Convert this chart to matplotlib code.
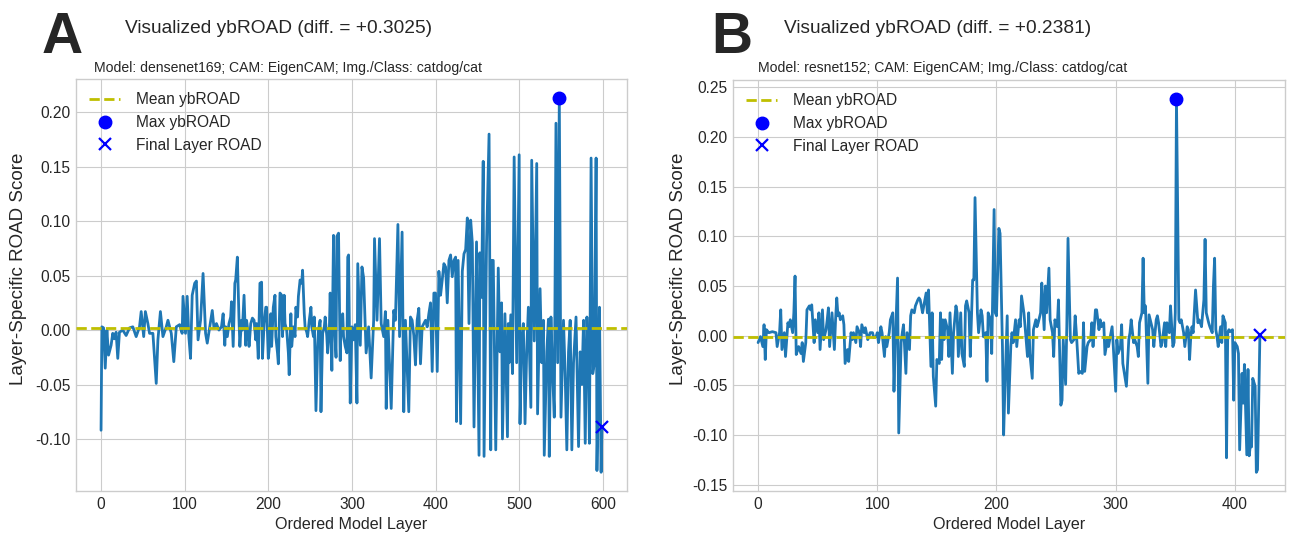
import matplotlib
matplotlib.use('Agg')
import matplotlib.pyplot as plt
import numpy as np

plt.style.use('seaborn-v0_8-whitegrid')
plt.rcParams['font.family'] = ['Liberation Sans', 'DejaVu Sans']
plt.rcParams['axes.unicode_minus'] = False

# ---------------- data ----------------
a_layers = [0, 1, 3, 5, 7, 9, 12, 14, 16, 18, 20, 22, 26, 30, 34, 38, 42, 46, 48, 51,
            53, 56, 58, 62, 66, 68, 71, 74, 78, 80, 84, 87, 90, 94, 97, 98, 101, 103, 105, 107,
            109, 112, 114, 116, 119, 122, 125, 127, 130, 133, 135, 138, 141, 144, 146, 148, 149, 151, 153, 155,
            156, 158, 160, 161, 163, 165, 166, 168, 169, 171, 173, 174, 176, 177, 179, 181, 183, 185, 186, 188,
            189, 190, 192, 193, 195, 197, 198, 200, 201, 203, 204, 206, 208, 209, 211, 212, 214, 216, 217, 219,
            220, 222, 224, 225, 227, 228, 230, 232, 233, 235, 236, 238, 240, 241, 243, 244, 246, 247, 249, 251,
            252, 254, 255, 257, 259, 260, 262, 263, 265, 267, 268, 270, 271, 273, 274, 276, 278, 279, 281, 282,
            284, 286, 287, 289, 290, 292, 294, 295, 296, 298, 300, 302, 304, 306, 307, 310, 312, 314, 317, 320,
            323, 326, 327, 330, 333, 335, 338, 340, 341, 343, 347, 350, 352, 355, 357, 360, 362, 364, 368, 370,
            372, 374, 376, 378, 380, 382, 384, 388, 390, 392, 394, 396, 398, 400, 402, 404, 406, 408, 410, 412,
            414, 416, 418, 420, 422, 424, 425, 427, 430, 432, 434, 436, 438, 440, 442, 444, 446, 449, 452, 453,
            455, 457, 458, 461, 464, 466, 467, 469, 472, 475, 477, 479, 480, 483, 486, 487, 488, 490, 492, 494,
            497, 500, 501, 503, 505, 507, 509, 511, 514, 515, 518, 521, 522, 525, 527, 529, 530, 533, 535, 536,
            538, 540, 542, 544, 546, 548, 550, 553, 555, 557, 559, 561, 563, 565, 568, 571, 573, 575, 577, 579,
            581, 583, 584, 586, 588, 590, 592, 593, 595, 596, 598, 599]
a_scores = [-0.092, 0.003, 0.002, -0.035, 0.000, -0.023, -0.014, -0.003, -0.008, -0.002, -0.026, -0.002, 0.000, -0.005, 0.002, 0.003, -0.006, 0.003, 0.017, -0.006,
            0.017, 0.006, -0.003, -0.003, -0.049, -0.009, 0.017, -0.006, 0.003, 0.009, -0.003, -0.029, 0.003, 0.005, -0.003, 0.031, -0.003, 0.031, -0.006, -0.026,
            0.032, 0.043, 0.045, -0.009, 0.009, 0.052, -0.003, -0.012, 0.003, 0.018, 0.002, 0.006, 0.000, 0.003, 0.015, -0.014, 0.003, -0.006, 0.006, 0.012,
            0.026, -0.015, 0.043, 0.046, 0.067, 0.009, -0.015, 0.009, 0.000, 0.032, -0.014, 0.009, -0.003, -0.015, 0.006, 0.011, 0.009, -0.009, 0.006, -0.026,
            0.009, 0.043, 0.044, -0.026, 0.006, 0.021, 0.021, -0.026, -0.018, 0.015, -0.015, 0.021, 0.032, -0.006, -0.021, -0.031, 0.034, 0.032, -0.006, 0.032,
            0.006, 0.000, -0.021, -0.041, 0.015, -0.015, 0.003, -0.006, 0.021, 0.012, 0.031, 0.046, 0.043, 0.055, 0.015, 0.003, -0.002, -0.006, 0.009, 0.021,
            0.003, -0.006, 0.012, -0.074, -0.015, 0.000, 0.009, -0.075, -0.003, 0.003, 0.012, -0.006, -0.021, 0.000, 0.034, -0.037, 0.087, 0.009, -0.025, 0.086,
            0.089, -0.028, 0.006, 0.015, -0.006, -0.015, -0.021, 0.067, 0.069, -0.067, 0.003, -0.009, 0.005, -0.067, 0.061, -0.014, 0.058, 0.048, -0.021, 0.003,
            -0.044, 0.009, 0.084, 0.009, 0.084, 0.006, -0.006, 0.017, -0.072, 0.009, -0.072, 0.018, 0.009, 0.097, -0.006, 0.090, -0.075, 0.009, -0.075, 0.012,
            0.009, -0.005, -0.032, 0.009, 0.020, -0.031, 0.003, 0.009, 0.003, 0.015, 0.025, -0.038, 0.034, 0.034, -0.038, 0.054, 0.032, 0.046, 0.061, 0.058,
            0.025, 0.064, 0.069, 0.049, 0.064, 0.067, -0.084, 0.064, -0.086, 0.054, 0.070, 0.074, 0.103, 0.006, 0.101, 0.080, -0.089, 0.081, -0.115, 0.071,
            0.030, 0.155, -0.116, 0.080, 0.180, -0.110, 0.064, 0.064, -0.110, 0.057, -0.020, 0.025, -0.100, 0.015, -0.098, 0.006, -0.030, 0.014, -0.040, 0.159,
            -0.030, 0.161, -0.086, -0.010, 0.006, -0.086, -0.020, 0.021, -0.071, 0.156, -0.010, 0.153, -0.077, 0.038, -0.030, 0.009, -0.115, -0.020, 0.010, -0.116,
            0.012, -0.040, -0.080, 0.190, -0.030, 0.2134, -0.080, 0.009, -0.040, -0.110, -0.020, 0.009, -0.110, -0.030, 0.012, -0.107, -0.020, -0.050, 0.009, -0.104,
            0.012, -0.040, -0.104, 0.158, -0.040, -0.030, 0.158, -0.129, -0.040, 0.021, -0.1306, -0.0891]
a_mean = 0.002

b_layers = [0, 2, 4, 5, 6, 7, 9, 12, 15, 16, 18, 19, 20, 22, 23, 25, 26, 27, 29, 30,
            31, 32, 34, 36, 37, 38, 40, 41, 43, 44, 45, 47, 48, 50, 51, 52, 54, 55, 57, 58,
            59, 60, 61, 62, 64, 65, 66, 67, 68, 69, 71, 72, 73, 75, 76, 78, 79, 80, 82, 83,
            85, 86, 87, 89, 90, 92, 93, 94, 96, 97, 99, 100, 101, 103, 104, 106, 107, 108, 110, 111,
            113, 114, 115, 117, 118, 120, 121, 122, 124, 125, 127, 128, 129, 131, 132, 134, 135, 136, 138, 139,
            141, 142, 143, 145, 146, 147, 149, 150, 152, 153, 154, 155, 156, 157, 159, 160, 161, 163, 164, 166,
            167, 168, 170, 171, 173, 174, 175, 177, 178, 180, 181, 182, 184, 185, 187, 188, 189, 191, 192, 193,
            195, 196, 198, 199, 200, 202, 203, 205, 206, 207, 209, 210, 212, 213, 214, 216, 217, 219, 220, 221,
            223, 224, 226, 227, 228, 230, 231, 233, 234, 235, 237, 238, 240, 241, 242, 244, 245, 247, 248, 249,
            251, 252, 254, 255, 256, 258, 259, 260, 262, 263, 265, 266, 267, 269, 270, 272, 273, 274, 276, 277,
            279, 280, 281, 283, 284, 286, 287, 288, 290, 291, 293, 294, 295, 297, 298, 300, 301, 302, 304, 305,
            306, 309, 311, 312, 313, 315, 316, 318, 319, 320, 322, 323, 324, 325, 327, 328, 329, 331, 332, 334,
            335, 336, 338, 339, 341, 342, 343, 345, 346, 348, 349, 350, 351, 353, 354, 355, 357, 358, 360, 361,
            362, 363, 364, 365, 367, 369, 370, 371, 372, 374, 375, 376, 378, 379, 381, 382, 383, 384, 385, 386,
            388, 389, 390, 392, 393, 394, 395, 396, 398, 399, 400, 402, 403, 404, 406, 407, 408, 410, 411, 412,
            413, 414, 415, 417, 418, 419, 421]
b_scores = [-0.007, -0.001, -0.011, 0.011, -0.024, 0.006, 0.003, 0.004, 0.003, -0.011, 0.003, 0.026, -0.014, 0.003, -0.021, 0.013, 0.009, 0.016, 0.003, 0.023,
            0.060, -0.019, -0.011, -0.018, -0.007, -0.026, -0.007, 0.026, 0.030, 0.026, 0.031, -0.007, 0.016, 0.003, 0.023, -0.014, 0.026, -0.004, 0.006, 0.016,
            0.028, -0.011, 0.006, 0.023, -0.014, 0.016, 0.038, 0.020, 0.023, 0.016, 0.020, 0.011, -0.028, -0.014, -0.026, 0.003, -0.004, 0.003, -0.007, 0.009,
            0.003, -0.011, 0.011, 0.003, 0.008, -0.004, -0.001, 0.003, 0.003, -0.002, -0.001, 0.003, -0.007, 0.009, 0.003, -0.021, -0.001, -0.011, 0.003, 0.016,
            0.023, -0.056, -0.011, 0.058, -0.098, -0.007, 0.003, 0.011, -0.038, 0.003, -0.014, 0.020, 0.026, 0.023, 0.030, 0.036, 0.038, 0.036, 0.023, 0.030,
            0.043, 0.023, 0.046, -0.031, 0.023, -0.041, -0.071, -0.024, -0.028, 0.023, -0.024, 0.016, -0.004, 0.016, 0.006, -0.021, 0.023, -0.038, 0.003, 0.030,
            0.023, -0.021, 0.023, -0.018, -0.031, 0.030, 0.035, 0.023, -0.021, 0.056, 0.056, 0.139, 0.023, 0.003, 0.026, 0.020, -0.001, 0.003, -0.046, 0.023,
            0.016, -0.018, 0.127, 0.023, 0.020, 0.108, 0.103, -0.011, -0.100, -0.056, 0.020, -0.078, -0.011, 0.003, -0.007, 0.016, -0.011, 0.016, 0.009, 0.040,
            0.023, 0.009, -0.021, 0.023, -0.018, -0.043, 0.006, 0.016, 0.009, 0.013, 0.023, 0.053, 0.006, 0.050, 0.023, 0.068, 0.016, 0.003, -0.021, 0.016,
            0.009, 0.036, -0.070, -0.065, -0.004, -0.049, 0.009, 0.098, -0.004, -0.007, -0.004, 0.020, 0.003, -0.038, -0.036, -0.038, 0.013, -0.036, -0.011, -0.007,
            -0.004, 0.013, -0.011, 0.026, 0.026, 0.006, 0.016, 0.009, 0.013, -0.019, -0.004, -0.011, -0.004, 0.009, -0.011, -0.056, -0.004, -0.018, -0.011, 0.011,
            -0.028, -0.051, -0.004, 0.003, 0.016, -0.007, -0.004, -0.011, -0.021, 0.013, 0.023, 0.078, 0.023, 0.030, -0.048, 0.021, 0.016, 0.006, -0.011, 0.016,
            0.020, 0.013, -0.011, -0.007, 0.013, -0.011, 0.013, 0.003, 0.030, -0.011, -0.007, 0.023, 0.2386, 0.016, 0.013, 0.016, 0.003, -0.011, 0.009, 0.006,
            -0.024, -0.001, 0.009, 0.003, 0.046, 0.013, 0.016, 0.013, 0.009, 0.036, 0.097, 0.023, 0.013, 0.009, 0.003, 0.050, 0.078, 0.006, -0.001, -0.011,
            0.009, -0.007, 0.020, 0.013, -0.123, 0.003, 0.006, 0.004, 0.006, -0.065, -0.007, -0.011, -0.018, -0.115, -0.038, -0.068, -0.029, -0.120, -0.034, -0.121,
            -0.110, -0.112, -0.043, -0.051, -0.1376, -0.135, 0.0005]
b_mean = -0.001

panels = [
    dict(layers=a_layers, scores=a_scores, mean=a_mean, letter='A',
         title='Visualized ybROAD (diff. = +0.3025)',
         subtitle='Model: densenet169; CAM: EigenCAM; Img./Class: catdog/cat'),
    dict(layers=b_layers, scores=b_scores, mean=b_mean, letter='B',
         title='Visualized ybROAD (diff. = +0.2381)',
         subtitle='Model: resnet152; CAM: EigenCAM; Img./Class: catdog/cat'),
]

W, H = 1290, 533
fig = plt.figure(figsize=(W / 100, H / 100), dpi=100)

boxes = [(76, 79, 627, 491), (733, 80, 1285, 491)]
title_x = [279, 938]
sub_x = [288, 943]
letter_x = [42, 711]
ylabel_x = [27, 687]

for p, (l, t, r, b), tx, sx, lx, yx in zip(panels, boxes, title_x, sub_x, letter_x, ylabel_x):
    ax = fig.add_axes([l / W, 1 - b / H, (r - l) / W, (b - t) / H])
    x = np.asarray(p['layers'])
    y = np.asarray(p['scores'])
    ax.plot(x, y, color='#1f77b4', lw=2.0, zorder=2)
    ax.axhline(p['mean'], color='y', ls='--', lw=2.0, label='Mean ybROAD', zorder=3)
    i = int(np.argmax(y))
    ax.plot(x[i], y[i], 'o', color='blue', ms=9, label='Max ybROAD', zorder=4)
    ax.plot(x[-1], y[-1], 'x', color='blue', ms=9, mew=1.6, label='Final Layer ROAD', zorder=4)
    ax.tick_params(labelsize=11.2, pad=4)
    ax.set_xlabel('Ordered Model Layer', fontsize=11.6, labelpad=4)
    ax.set_ylabel('Layer-Specific ROAD Score', fontsize=13.5)
    ax.yaxis.set_label_coords((yx - l) / (r - l), 0.54)
    ax.legend(loc='upper left', fontsize=11.2, frameon=False, labelspacing=0.5,
              handlelength=2.0, handletextpad=1.0, borderaxespad=0.45)
    fig.text(tx / W, 1 - 33 / H, p['title'], ha='center', va='baseline', fontsize=13.8)
    fig.text(sx / W, 1 - 72 / H, p['subtitle'], ha='center', va='baseline', fontsize=10.1)
    fig.text(lx / W, 1 - 53 / H, p['letter'], ha='left', va='baseline', fontsize=41, fontweight='bold')

fig.savefig('out.png', dpi=100)
